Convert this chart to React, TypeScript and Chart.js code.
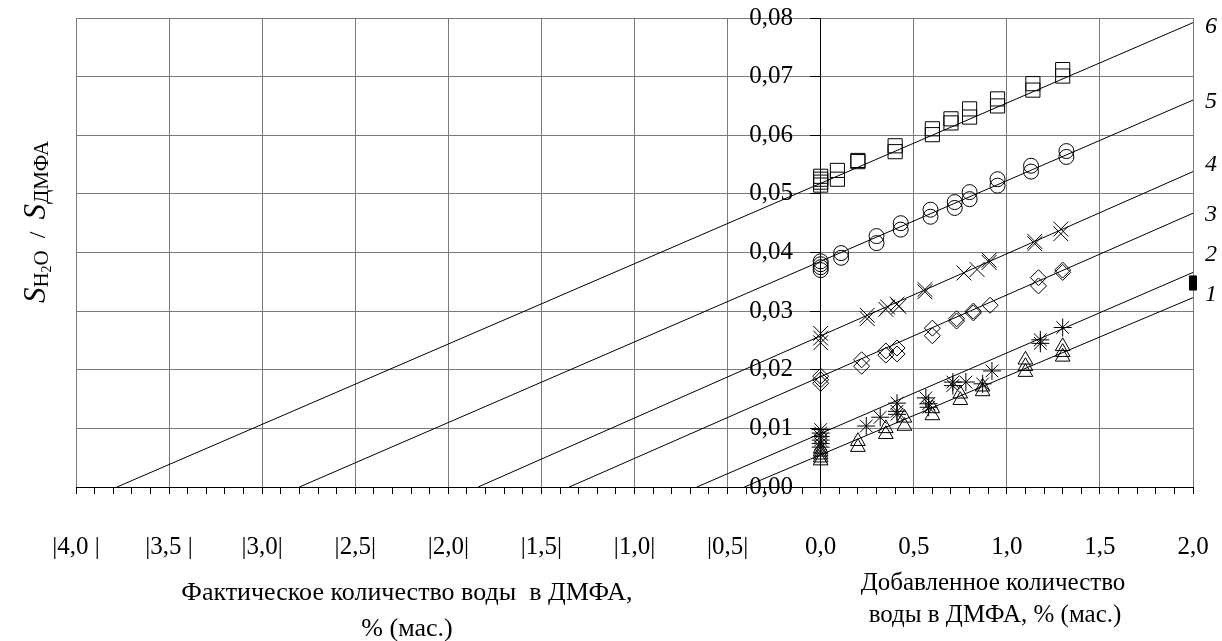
import React, { useEffect, useRef } from 'react';
import { Chart, registerables } from 'chart.js';

Chart.register(...registerables);

const FONT = '"Liberation Serif", "Times New Roman", serif';
const GRID = '#7a7a7a';

// tick labels
const xTickLabels = ['|4,0 |', '|3,5 |', '|3,0|', '|2,5|', '|2,0|', '|1,5|', '|1,0|', '|0,5|', '0,0', '0,5', '1,0', '1,5', '2,0'];
const yTickLabels = ['0,00', '0,01', '0,02', '0,03', '0,04', '0,05', '0,06', '0,07', '0,08'];

// regression lines 1..6 (start at y = 0, end at x = 2.0)
const lineNames = ['1', '2', '3', '4', '5', '6'];
const lineStartX = [-0.41, -0.665, -1.35, -1.84, -2.8, -3.78];
const lineEndX = [2, 2, 2, 2, 2, 2];
const lineEndY = [0.0323, 0.0366, 0.0467, 0.0538, 0.066, 0.0792];

// series 6 (squares)
const s6x = [0, 0, 0, 0, 0.09, 0.09, 0.2, 0.2, 0.4, 0.4, 0.6, 0.6, 0.7, 0.7, 0.8, 0.8, 0.95, 0.95, 1.14, 1.14, 1.3, 1.3];
const s6y = [0.0515, 0.052, 0.0525, 0.053, 0.054, 0.0525, 0.0555, 0.0557, 0.0582, 0.0572, 0.0611, 0.0601, 0.0628, 0.0621, 0.0645, 0.0631, 0.0662, 0.065, 0.0688, 0.0677, 0.0712, 0.0701];

// series 5 (circles)
const s5x = [0, 0, 0, 0, 0.11, 0.11, 0.3, 0.3, 0.43, 0.43, 0.59, 0.59, 0.72, 0.72, 0.8, 0.8, 0.95, 0.95, 1.13, 1.13, 1.32, 1.32];
const s5y = [0.0385, 0.038, 0.0375, 0.037, 0.0399, 0.0391, 0.0428, 0.0416, 0.045, 0.0439, 0.0473, 0.0461, 0.0486, 0.0476, 0.0503, 0.0491, 0.0525, 0.0514, 0.0548, 0.0538, 0.0573, 0.0563];

// series 4 (x crosses)
const s4x = [0, 0, 0, 0.25, 0.25, 0.35, 0.36, 0.41, 0.42, 0.56, 0.56, 0.77, 0.84, 0.905, 0.905, 1.15, 1.15, 1.29, 1.29];
const s4y = [0.0262, 0.0254, 0.0246, 0.0293, 0.0287, 0.0303, 0.0307, 0.0312, 0.0308, 0.0337, 0.0333, 0.0365, 0.0371, 0.0387, 0.0383, 0.0419, 0.0415, 0.044, 0.0432];

// series 3 (diamonds)
const s3x = [0, 0, 0, 0.22, 0.22, 0.35, 0.35, 0.41, 0.41, 0.6, 0.6, 0.73, 0.73, 0.82, 0.82, 0.91, 1.17, 1.17, 1.3, 1.3];
const s3y = [0.0189, 0.0183, 0.0177, 0.0217, 0.0206, 0.0232, 0.0225, 0.0237, 0.0227, 0.0271, 0.0258, 0.0287, 0.0283, 0.03, 0.0297, 0.031, 0.0357, 0.0343, 0.037, 0.0366];

// series 2 (asterisks)
const s2x = [0, 0, 0, 0, 0, 0, 0.245, 0.32, 0.41, 0.41, 0.41, 0.565, 0.58, 0.58, 0.71, 0.71, 0.78, 0.87, 0.92, 1.18, 1.18, 1.3];
const s2y = [0.0098, 0.0092, 0.0086, 0.008, 0.0074, 0.0068, 0.0104, 0.0119, 0.0129, 0.0124, 0.0143, 0.0152, 0.0142, 0.0136, 0.0179, 0.0173, 0.0179, 0.0176, 0.0198, 0.0251, 0.0245, 0.0272];

// series 1 (triangles)
const s1x = [0, 0, 0, 0, 0, 0.2, 0.2, 0.35, 0.35, 0.45, 0.45, 0.6, 0.6, 0.75, 0.75, 0.87, 0.87, 1.1, 1.1, 1.1, 1.3, 1.3, 1.3];
const s1y = [0.0045, 0.005, 0.0055, 0.006, 0.0065, 0.0078, 0.0068, 0.01, 0.009, 0.0118, 0.0104, 0.0134, 0.0122, 0.0159, 0.0148, 0.0171, 0.0163, 0.0217, 0.0206, 0.0196, 0.024, 0.023, 0.0222];

// stray filled mark at right edge
const markX = [2.0, 2.0];
const markY = [0.0354, 0.0342];

const pts = (xs: number[], ys: number[]) => xs.map((x, i) => ({ x, y: ys[i] }));

const isMajor = (v: number) => Math.abs(v * 2 - Math.round(v * 2)) < 1e-6;

const curveLabelY = [293, 253, 213, 163, 100, 25];

const zeroPad = (s: any) => {
  s.paddingLeft = 0;
  s.paddingRight = 0;
  s.paddingTop = 0;
  s.paddingBottom = 0;
};

export default function App() {
  const ref = useRef<HTMLCanvasElement | null>(null);

  useEffect(() => {
    if (!ref.current) return;
    const marker = (data: any[], style: string, r: number, extra: any = {}) => ({
      type: 'scatter',
      data,
      showLine: false,
      pointStyle: style,
      pointRadius: r,
      pointBorderColor: '#000',
      pointBackgroundColor: 'rgba(0,0,0,0)',
      pointBorderWidth: 1,
      clip: false,
      ...extra,
    });
    const lineSets = lineNames.map((n, i) => ({
      type: 'scatter',
      label: 'line ' + n,
      data: [
        { x: lineStartX[i], y: 0 },
        { x: lineEndX[i], y: lineEndY[i] },
      ],
      showLine: true,
      borderColor: '#000',
      borderWidth: 1,
      pointRadius: 0,
      fill: false,
    }));
    const chart = new Chart(ref.current, {
      type: 'scatter',
      data: {
        datasets: [
          ...lineSets,
          marker(pts(s6x, s6y), 'rect', 10),
          marker(pts(s5x, s5y), 'circle', 7.5),
          marker(pts(s4x, s4y), 'crossRot', 10.5),
          marker(pts(s3x, s3y), 'rectRot', 8),
          marker(pts(s2x, s2y), 'star', 9),
          marker(pts(s1x, s1y), 'triangle', 8.5),
          marker(pts(markX, markY), 'rect', 5, { pointBackgroundColor: '#000' }),
        ] as any,
      },
      options: {
        animation: false,
        responsive: false,
        devicePixelRatio: 1,
        layout: { padding: { left: 76, top: 18, right: 29, bottom: 54 } },
        plugins: { legend: { display: false }, tooltip: { enabled: false } },
        scales: {
          x: {
            type: 'linear',
            min: -4,
            max: 2,
            position: 'bottom',
            afterFit: (s: any) => {
              zeroPad(s);
              s.height = 100;
            },
            ticks: {
              stepSize: 0.1,
              autoSkip: false,
              maxRotation: 0,
              minRotation: 0,
              padding: 38,
              color: '#000',
              font: { family: FONT, size: 25 },
              callback: (v: any) => (isMajor(Number(v)) ? xTickLabels[Math.round((Number(v) + 4) * 2)] : ''),
            },
            grid: {
              color: (ctx: any) => {
                const v = ctx.tick ? ctx.tick.value : 1;
                if (Math.abs(v) < 1e-6) return '#000';
                return isMajor(v) ? GRID : 'rgba(0,0,0,0)';
              },
              tickColor: '#000',
              tickLength: 7,
              lineWidth: 1,
            },
            border: { color: '#000', width: 1 },
          },
          y: {
            type: 'linear',
            min: 0,
            max: 0.08,
            position: { x: 0 } as any,
            afterFit: (s: any) => {
              zeroPad(s);
              s.width = 0;
            },
            ticks: {
              stepSize: 0.01,
              display: false,
            },
            grid: { color: GRID, tickColor: '#000', tickLength: 10, lineWidth: 1 },
            border: { color: '#000', width: 1 },
          },
          yLabels: {
            type: 'linear',
            axis: 'y',
            min: 0,
            max: 0.08,
            position: { x: -0.149 } as any,
            afterFit: (s: any) => {
              zeroPad(s);
              s.width = 0;
            },
            ticks: {
              stepSize: 0.01,
              color: '#000',
              font: { family: FONT, size: 25 },
              callback: (v: any) => yTickLabels[Math.round(Number(v) * 100)],
            },
            grid: { display: false },
            border: { display: false },
          },
        },
      } as any,
    });
    return () => chart.destroy();
  }, []);

  const txt: React.CSSProperties = {
    position: 'absolute',
    fontFamily: FONT,
    fontSize: 25,
    lineHeight: '28px',
    color: '#000',
    whiteSpace: 'pre',
    textAlign: 'center',
    width: 600,
  };

  return (
    <div style={{ position: 'fixed', left: 0, top: 0, width: 1222, height: 641, background: '#fff' }}>
      <canvas ref={ref} width={1222} height={641} style={{ position: 'absolute', left: 0, top: 0 }} />
      <div style={{ ...txt, fontSize: 26, left: 407 - 300, top: 592 - 14 }}>Фактическое количество воды  в ДМФА,</div>
      <div style={{ ...txt, fontSize: 26, left: 407 - 300, top: 628 - 14 }}>% (мас.)</div>
      <div style={{ ...txt, left: 993 - 300, top: 582 - 14 }}>Добавленное количество</div>
      <div style={{ ...txt, left: 995 - 300, top: 614 - 14 }}>воды в ДМФА, % (мас.)</div>
      {lineNames.map((n, i) => (
        <div key={n} style={{ ...txt, fontSize: 24, width: 30, left: 1211 - 15, top: curveLabelY[i] - 14, fontStyle: 'italic' }}>
          {n}
        </div>
      ))}
      <div
        style={{
          position: 'absolute',
          left: 35 - 150,
          top: 222 - 20,
          width: 300,
          height: 40,
          lineHeight: '40px',
          textAlign: 'center',
          transform: 'rotate(-90deg)',
          fontFamily: FONT,
          color: '#000',
          whiteSpace: 'pre',
        }}
      >
        <span style={{ fontSize: 31, fontStyle: 'italic' }}>S</span>
        <span style={{ fontSize: 21, position: 'relative', top: 3 }}>
          H<span style={{ fontSize: 14, position: 'relative', top: 3 }}>2</span>O
        </span>
        <span style={{ fontSize: 24 }}>  /  </span>
        <span style={{ fontSize: 31, fontStyle: 'italic' }}>S</span>
        <span style={{ fontSize: 21, position: 'relative', top: 3 }}>ДМФА</span>
      </div>
    </div>
  );
}
